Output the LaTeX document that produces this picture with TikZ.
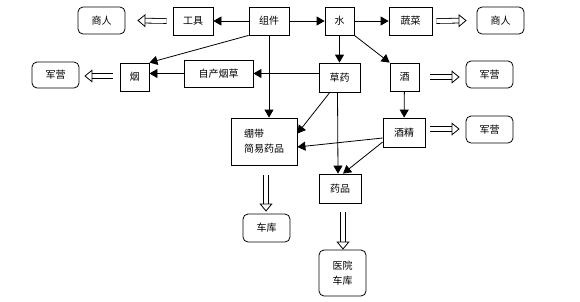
\documentclass[tikz,border=0pt]{standalone}
\usepackage{fontspec}
\newfontfamily\cjk{Noto Sans CJK SC}
\usetikzlibrary{arrows.meta}
\tikzset{
  box/.style={draw,line width=0.8pt,inner sep=0pt,font=\cjk\fontsize{10}{15}\selectfont},
  rbox/.style={box,rounded corners=5pt},
  arr/.style={line width=0.8pt,-{Triangle[length=8pt,width=9pt]}},
  hollow/.style={line width=0.8pt,double,double distance=4pt,-{Triangle[open,length=8pt,width=13pt]}}
}
\begin{document}
\begin{tikzpicture}[x=1pt,y=-1pt]
  \useasboundingbox[fill=white] (0,0) rectangle (580,301);
  \node[rbox,minimum width=47pt,minimum height=27pt] (srL) at (101.5,20.5) {商人};
  \node[box,minimum width=40pt,minimum height=28pt] (gj) at (193,21) {工具};
  \node[box,minimum width=40pt,minimum height=28pt] (zj) at (269,21) {组件};
  \node[box,minimum width=29pt,minimum height=28pt] (shui) at (339.5,21) {水};
  \node[box,minimum width=43pt,minimum height=28pt] (sc) at (410.5,21) {蔬菜};
  \node[rbox,minimum width=47pt,minimum height=27pt] (srR) at (500.5,20.5) {商人};
  \node[rbox,minimum width=47pt,minimum height=26pt] (jyL) at (55.5,75) {军营};
  \node[box,minimum width=29pt,minimum height=28pt] (yan) at (134.5,77) {烟};
  \node[box,minimum width=69pt,minimum height=27pt] (zcyc) at (218.5,73.5) {自产烟草};
  \node[box,minimum width=41pt,minimum height=29pt] (cy) at (339.5,77.5) {草药};
  \node[box,minimum width=29pt,minimum height=28pt] (jiu) at (404.5,77) {酒};
  \node[rbox,minimum width=47pt,minimum height=27pt] (jyA) at (489.5,74.5) {军营};
  \node[box,minimum width=42pt,minimum height=29pt] (jj) at (404,132.5) {酒精};
  \node[rbox,minimum width=47pt,minimum height=27pt] (jyB) at (489.5,129.5) {军营};
  \node[box,minimum width=66pt,minimum height=47pt,align=left] (bd) at (264,141.5) {绷带\\简易药品};
  \node[box,minimum width=42pt,minimum height=29pt] (yp) at (340,188.5) {药品};
  \node[rbox,minimum width=47pt,minimum height=28pt] (ck) at (266.5,228) {车库};
  \node[rbox,minimum width=47pt,minimum height=46pt,align=center] (yy) at (342.5,273) {医院\\车库};

  \draw[arr] (zj) -- (gj);
  \draw[arr] (zj) -- (shui);
  \draw[arr] (shui) -- (sc);
  \draw[arr] (shui) -- (cy);
  \draw[arr] (shui.south east) -- (jiu.north west);
  \draw[arr] (zj.south west) -- (yan.north east);
  \draw[arr] (zcyc.west) -- (yan.east |- zcyc.west);
  \draw[arr] (cy.west |- zcyc.east) -- (zcyc.east);
  \draw[arr] (zj.south) -- (zj.south |- bd.north);
  \draw[arr] (cy.237) -- ([yshift=8pt]bd.east);
  \draw[arr] ([xshift=-2pt]cy.south) -- ([xshift=-2pt]yp.north);
  \draw[arr] (jiu) -- (jj);
  \draw[arr] ([yshift=-5.5pt]jj.west) -- ([yshift=-5.5pt]bd.east);
  \draw[arr] (jj.204) -- ([xshift=3pt]yp.north);

  \draw[hollow] ([xshift=-6pt]gj.west) -- ([xshift=12pt]srL.east);
  \draw[hollow] ([xshift=-7pt,yshift=1pt]yan.west) -- ([xshift=5pt,yshift=1pt]yan.west -| jyL.east);
  \draw[hollow] ([xshift=4pt]sc.east) -- ([xshift=-10pt]srR.west);
  \draw[hollow] ([xshift=11pt]jiu.east) -- ([xshift=-6pt]jiu.east -| jyA.west);
  \draw[hollow] ([xshift=5pt,yshift=3.5pt]jj.east) -- ([xshift=-6pt,yshift=3.5pt]jj.east -| jyB.west);
  \draw[hollow] ([xshift=2pt,yshift=-10pt]bd.south) -- ([xshift=2pt,yshift=2pt]bd.south |- ck.north);
  \draw[hollow] ([xshift=3pt,yshift=-9pt]yp.south) -- ([xshift=3pt]yp.south |- yy.north);
\end{tikzpicture}
\end{document}
